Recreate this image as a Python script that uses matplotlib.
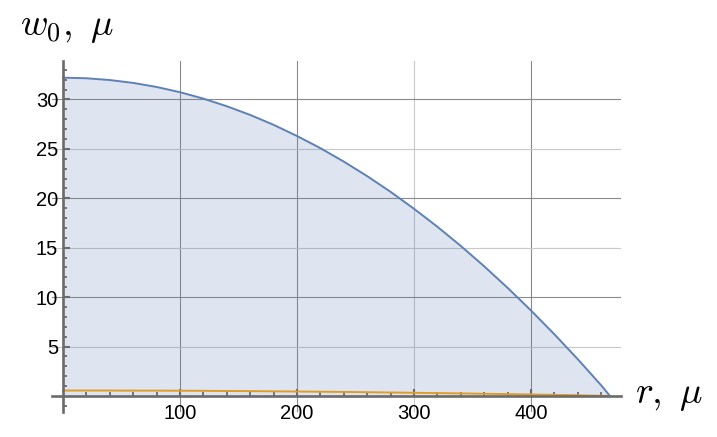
import matplotlib
matplotlib.use("Agg")
import matplotlib.pyplot as plt
from matplotlib.ticker import FixedLocator

plt.rcParams['mathtext.fontset'] = 'cm'
plt.rcParams['font.family'] = ['Liberation Sans', 'DejaVu Sans']

r = [0, 20, 40, 60, 80, 100, 120, 140, 160, 180, 200, 220, 240, 260, 280,
     300, 320, 340, 360, 380, 400, 420, 440, 460, 467.5]
w_blue = [32.2, 32.14, 31.96, 31.67, 31.26, 30.73, 30.08, 29.31, 28.43, 27.43,
          26.3, 25.07, 23.71, 22.24, 20.65, 18.94, 17.12, 15.18, 13.12, 10.94,
          8.65, 6.24, 3.72, 1.08, 0.0]
w_orange = [0.55, 0.55, 0.55, 0.54, 0.54, 0.53, 0.52, 0.50, 0.49, 0.47, 0.45,
            0.43, 0.41, 0.38, 0.35, 0.32, 0.29, 0.26, 0.22, 0.19, 0.15, 0.11,
            0.07, 0.02, 0.0]

x_ticks = [100, 200, 300, 400]
y_ticks = [5, 10, 15, 20, 25, 30]
x_label = r'$r,\ \mu$'
y_label = r'$w_0,\ \mu$'

fig = plt.figure(figsize=(7.17, 4.37), dpi=100)
ax = fig.add_axes([0.0732, 0.0577, 0.793, 0.803])
ax.set_xlim(-9, 477)
ax.set_ylim(-1.6, 33.9)

# grid lines (alternating shades like the reference)
dark, light = '#8a8a8a', '#c8c8c8'
for xv in x_ticks:
    ax.axvline(xv, color=light if xv == 300 else dark, lw=0.8, zorder=0)
for yv in y_ticks:
    ax.axhline(yv, color=dark if yv % 10 == 0 else light, lw=0.8, zorder=0)

blue = '#5e81b5'
orange = '#e19c24'
ax.fill_between(r, w_blue, 0, color=blue, alpha=0.2, lw=0, zorder=1)
ax.plot(r, w_blue, color=blue, lw=1.4, zorder=3, solid_joinstyle='round')
ax.plot(r, w_orange, color=orange, lw=1.4, zorder=3)

for s in ['top', 'right']:
    ax.spines[s].set_visible(False)
for s in ['left', 'bottom']:
    ax.spines[s].set_position(('data', 0))
    ax.spines[s].set_color('#6b6b6b')
    ax.spines[s].set_linewidth(1.9)
    ax.spines[s].set_zorder(4)

ax.xaxis.set_major_locator(FixedLocator(x_ticks))
ax.xaxis.set_minor_locator(FixedLocator([v for v in range(20, 480, 20) if v % 100]))
ax.yaxis.set_major_locator(FixedLocator(y_ticks))
ax.yaxis.set_minor_locator(FixedLocator([v for v in range(-1, 34) if v % 5 and v != 0]))

ax.tick_params(axis='both', which='major', direction='in', length=5, width=1.5,
               color='#6b6b6b', labelsize=14.5, labelcolor='black')
ax.tick_params(axis='both', which='minor', direction='in', length=3, width=1.3,
               color='#6b6b6b')
ax.tick_params(axis='x', which='major', pad=6)
ax.tick_params(axis='y', which='major', pad=3.5)

fig.text(635 / 717, 1 - 403 / 437, x_label, fontsize=27, ha='left', va='baseline')
fig.text(20 / 717, 1 - 35 / 437, y_label, fontsize=27, ha='left', va='baseline')

fig.savefig('out.png', dpi=100)
